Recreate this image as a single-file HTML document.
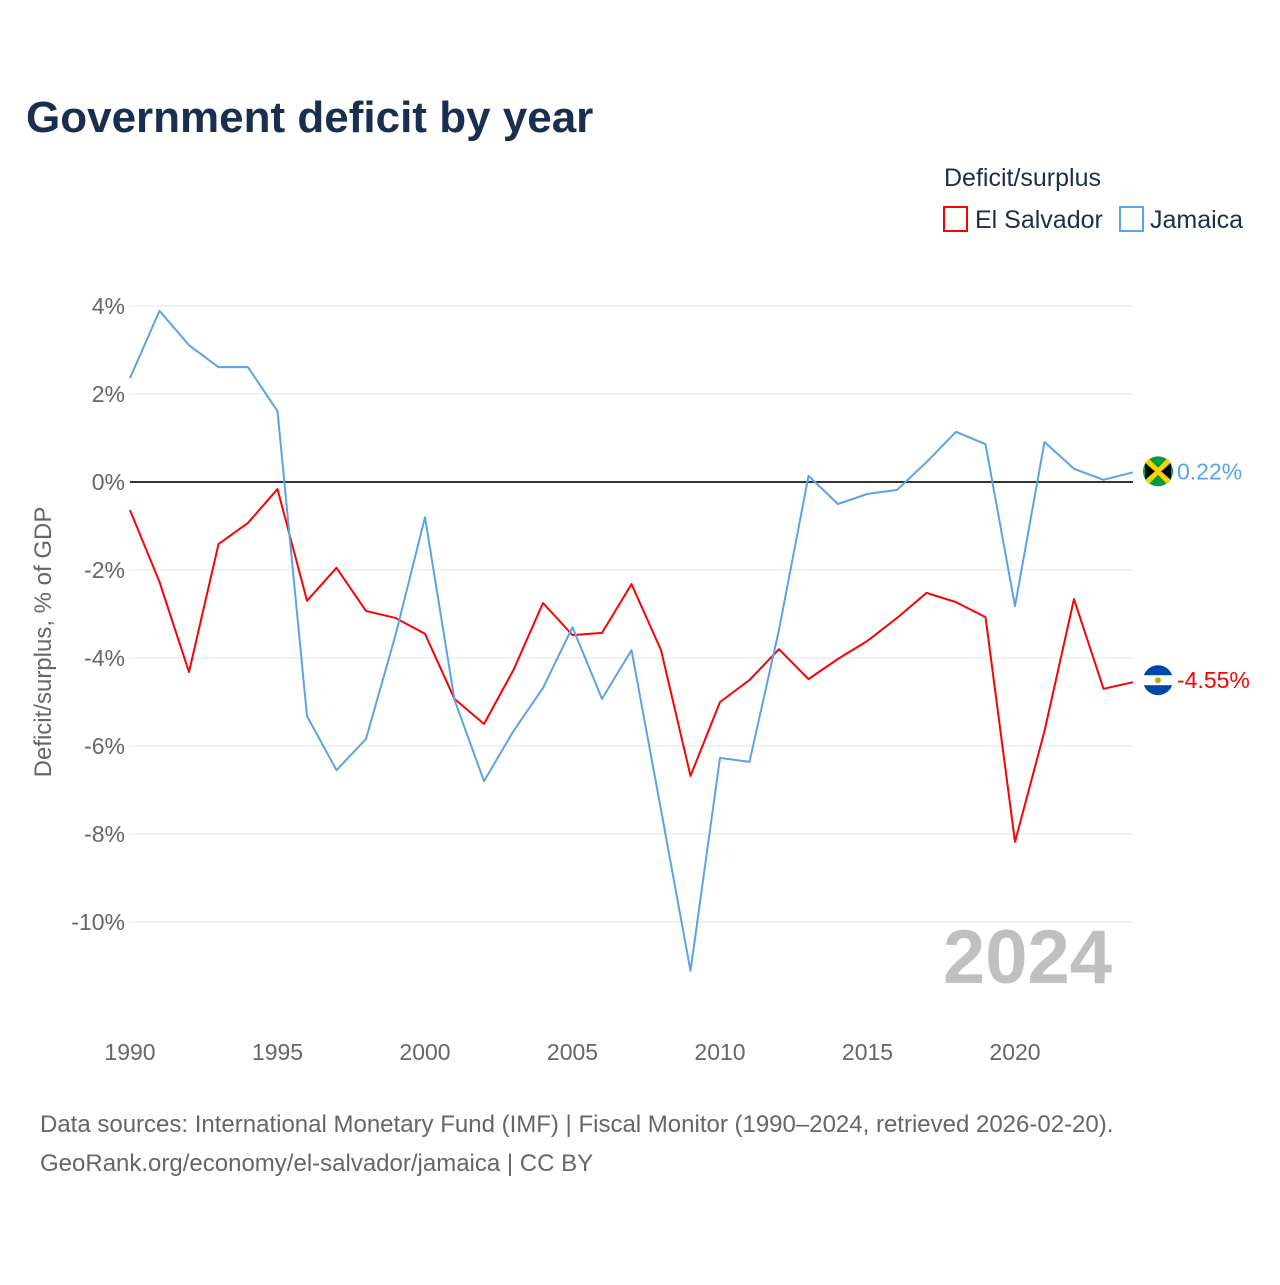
<!DOCTYPE html>
<html><head><meta charset="utf-8">
<style>
body{margin:0;background:#fff;font-family:"Liberation Sans",sans-serif;}
#wrap{position:relative;width:1280px;height:1280px;}
</style></head>
<body>
<div id="wrap">
<svg id="chart" width="1280" height="1280" xmlns="http://www.w3.org/2000/svg">
<text x="26" y="132" font-size="44" font-weight="bold" fill="#1a2e4f">Government deficit by year</text>
<text x="944" y="186" font-size="25" fill="#1a2e4f">Deficit/surplus</text>
<g>
<rect x="944" y="207" width="23" height="24" fill="none" stroke="#ff0000" stroke-width="2"/>
<text x="975" y="228" font-size="25" fill="#1a2e4f">El Salvador</text></g>
<g>
<rect x="1120" y="207" width="23" height="24" fill="none" stroke="#5ba3e8" stroke-width="2"/>
<text x="1150" y="228" font-size="25" fill="#1a2e4f">Jamaica</text></g>
<g id="grid"></g>
<g id="yticks"></g>
<g id="xticks"></g>
<text transform="translate(51,642) rotate(-90)" text-anchor="middle" font-size="24" fill="#666">Deficit/surplus, % of GDP</text>
<text x="1112" y="983" text-anchor="end" font-size="76" font-weight="bold" fill="#c0c0c0">2024</text>
<g id="series"></g>
<text x="40" y="1132" font-size="24" fill="#666">Data sources: International Monetary Fund (IMF) | Fiscal Monitor (1990–2024, retrieved 2026-02-20).</text>
<text x="40" y="1171" font-size="24" fill="#666">GeoRank.org/economy/el-salvador/jamaica | CC BY</text>
</svg>
</div>
<script>
const years=[1990,1991,1992,1993,1994,1995,1996,1997,1998,1999,2000,2001,2002,2003,2004,2005,2006,2007,2008,2009,2010,2011,2012,2013,2014,2015,2016,2017,2018,2019,2020,2021,2022,2023,2024];
const jamaica=[2.36,3.89,3.11,2.61,2.61,1.61,-5.32,-6.55,-5.84,-3.48,-0.80,-4.95,-6.80,-5.66,-4.68,-3.30,-4.93,-3.82,-7.45,-11.11,-6.27,-6.36,-3.36,0.14,-0.50,-0.27,-0.18,0.45,1.14,0.86,-2.82,0.91,0.30,0.05,0.22];
const elSalvador=[-0.64,-2.27,-4.32,-1.41,-0.93,-0.16,-2.70,-1.95,-2.93,-3.09,-3.45,-4.93,-5.50,-4.27,-2.75,-3.48,-3.43,-2.32,-3.82,-6.68,-5.00,-4.50,-3.80,-4.48,-4.02,-3.61,-3.09,-2.52,-2.73,-3.07,-8.18,-5.66,-2.66,-4.70,-4.55];
const yTicks=[4,2,0,-2,-4,-6,-8,-10];
const xTicks=[1990,1995,2000,2005,2010,2015,2020];
const NS="http://www.w3.org/2000/svg";
const X=y=>130+(y-1990)*29.5;
const Y=v=>482-v*44;
function mk(t,a,p){const e=document.createElementNS(NS,t);for(const k in a)e.setAttribute(k,a[k]);p.appendChild(e);return e;}
const grid=document.getElementById('grid'),yt=document.getElementById('yticks'),xt=document.getElementById('xticks'),ser=document.getElementById('series');
yTicks.forEach(v=>{
 const l=mk('line',{x1:130,x2:1133,y1:Y(v),y2:Y(v),stroke:v===0?'#333':'#e6e6e6','stroke-width':v===0?2:1},grid);
 
 
 const t=mk('text',{x:125,y:Y(v)+8,'text-anchor':'end','font-size':23,fill:'#666'},yt);
 t.textContent=v+'%';
 
 
});
xTicks.forEach(v=>{
 const t=mk('text',{x:X(v),y:1060,'text-anchor':'middle','font-size':23,fill:'#666'},xt);
 t.textContent=v;
 
 
});
function line(vals,color,name){
 const p=mk('polyline',{points:vals.map((v,i)=>X(years[i])+','+Y(v)).join(' '),fill:'none',stroke:color,'stroke-width':2,'stroke-linejoin':'round'},ser);
 
 
}
line(elSalvador,'#ff0000','el-salvador-line');
line(jamaica,'#5ba3e8','jamaica-line');
const lj=jamaica[jamaica.length-1],le=elSalvador[elSalvador.length-1];
let ly=Y(lj)-1, ey=Y(le)-2;
const fj=mk('g',{},ser);


mk('circle',{cx:1158,cy:ly,r:15,fill:'#009b3a'},fj);
mk('path',{d:`M1147 ${ly-11}L1169 ${ly+11}M1169 ${ly-11}L1147 ${ly+11}`,stroke:'#fed100','stroke-width':5},fj);
mk('path',{d:`M1145 ${ly-8}L1155 ${ly}L1145 ${ly+8}Z M1171 ${ly-8}L1161 ${ly}L1171 ${ly+8}Z`,fill:'#000'},fj);
const tj=mk('text',{x:1177,y:ly+8,'font-size':23,fill:'#5ba3e8'},ser);
tj.textContent=lj.toFixed(2)+'%';


const fe=mk('g',{},ser);


mk('circle',{cx:1158,cy:ey,r:15,fill:'#0047ab'},fe);
mk('rect',{x:1143,y:ey-5,width:30,height:10,fill:'#fff'},fe);
mk('circle',{cx:1158,cy:ey,r:3,fill:'#c8a800'},fe);
const te=mk('text',{x:1177,y:ey+8,'font-size':23,fill:'#ff0000'},ser);
te.textContent=le.toFixed(2)+'%';


</script>
</body></html>
